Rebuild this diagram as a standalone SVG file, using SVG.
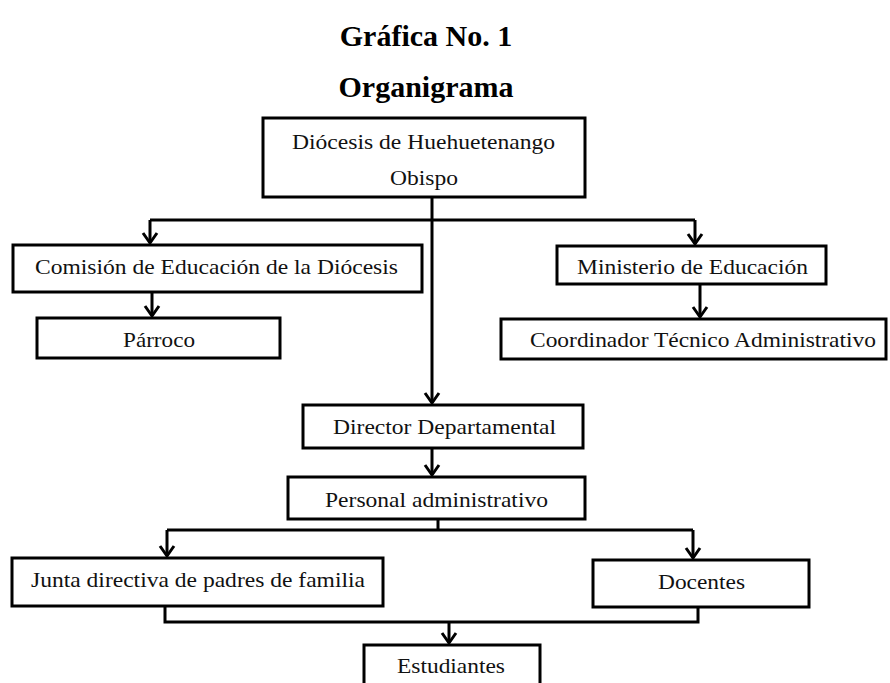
<svg xmlns="http://www.w3.org/2000/svg" width="890" height="683" viewBox="0 0 890 683">
<style>
.box{fill:#fff;stroke:#000;stroke-width:3}
.t{font-family:"Liberation Serif","Times New Roman",serif;font-size:21px;fill:#111;text-anchor:start}
.title{font-family:"Liberation Serif","Times New Roman",serif;font-size:30px;font-weight:bold;fill:#000;text-anchor:middle}
.c{fill:none;stroke:#000;stroke-width:3}
</style>
<defs>
<marker id="arr" markerUnits="userSpaceOnUse" markerWidth="20" markerHeight="20" refX="12" refY="10" orient="auto" viewBox="0 0 20 20">
<path d="M2,3 L12,10 L2,17" fill="none" stroke="#000" stroke-width="3"/>
</marker>
</defs>
<rect width="890" height="683" fill="#fff"/>
<text class="title" x="426" y="46">Gráfica No. 1</text>
<text class="title" x="426" y="97">Organigrama</text>
<g id="connectors">
<path class="c" d="M432,197 V403" marker-end="url(#arr)"/>
<path class="c" d="M150,220 H695"/>
<path class="c" d="M150,220 V243" marker-end="url(#arr)"/>
<path class="c" d="M695,220 V244" marker-end="url(#arr)"/>
<path class="c" d="M152,292 V316" marker-end="url(#arr)"/>
<path class="c" d="M700,284 V317" marker-end="url(#arr)"/>
<path class="c" d="M432,448 V475" marker-end="url(#arr)"/>
<path class="c" d="M438,519 V530"/>
<path class="c" d="M167,530 H693"/>
<path class="c" d="M167,530 V556" marker-end="url(#arr)"/>
<path class="c" d="M693,530 V558" marker-end="url(#arr)"/>
<path class="c" d="M165,606 V622 H698 V607"/>
<path class="c" d="M449,622 V643" marker-end="url(#arr)"/>
</g>
<g id="n-diocesis"><rect class="box" x="263" y="118" width="322" height="79"/>
<text class="t" x="292" y="149" textLength="263" lengthAdjust="spacingAndGlyphs">Diócesis de Huehuetenango</text>
<text class="t" x="390" y="185" textLength="68" lengthAdjust="spacingAndGlyphs">Obispo</text></g>
<g id="n-comision"><rect class="box" x="13" y="245" width="409" height="47"/>
<text class="t" x="35" y="274" textLength="363" lengthAdjust="spacingAndGlyphs">Comisión de Educación de la Diócesis</text></g>
<g id="n-parroco"><rect class="box" x="37" y="318" width="243" height="40"/>
<text class="t" x="123" y="347" textLength="72" lengthAdjust="spacingAndGlyphs">Párroco</text></g>
<g id="n-ministerio"><rect class="box" x="557" y="246" width="269" height="38"/>
<text class="t" x="577" y="274" textLength="231" lengthAdjust="spacingAndGlyphs">Ministerio de Educación</text></g>
<g id="n-coordinador"><rect class="box" x="501" y="319" width="385" height="40"/>
<text class="t" x="530" y="347" textLength="346" lengthAdjust="spacingAndGlyphs">Coordinador Técnico Administrativo</text></g>
<g id="n-director"><rect class="box" x="303" y="405" width="280" height="43"/>
<text class="t" x="333" y="434" textLength="223" lengthAdjust="spacingAndGlyphs">Director Departamental</text></g>
<g id="n-personal"><rect class="box" x="288" y="477" width="297" height="42"/>
<text class="t" x="325" y="507" textLength="223" lengthAdjust="spacingAndGlyphs">Personal administrativo</text></g>
<g id="n-junta"><rect class="box" x="12" y="558" width="371" height="48"/>
<text class="t" x="31" y="587" textLength="334" lengthAdjust="spacingAndGlyphs">Junta directiva de padres de familia</text></g>
<g id="n-docentes"><rect class="box" x="593" y="560" width="216" height="47"/>
<text class="t" x="658" y="589" textLength="87" lengthAdjust="spacingAndGlyphs">Docentes</text></g>
<g id="n-estudiantes"><rect class="box" x="364" y="645" width="176" height="48"/>
<text class="t" x="397" y="673" textLength="108" lengthAdjust="spacingAndGlyphs">Estudiantes</text></g>
</svg>
